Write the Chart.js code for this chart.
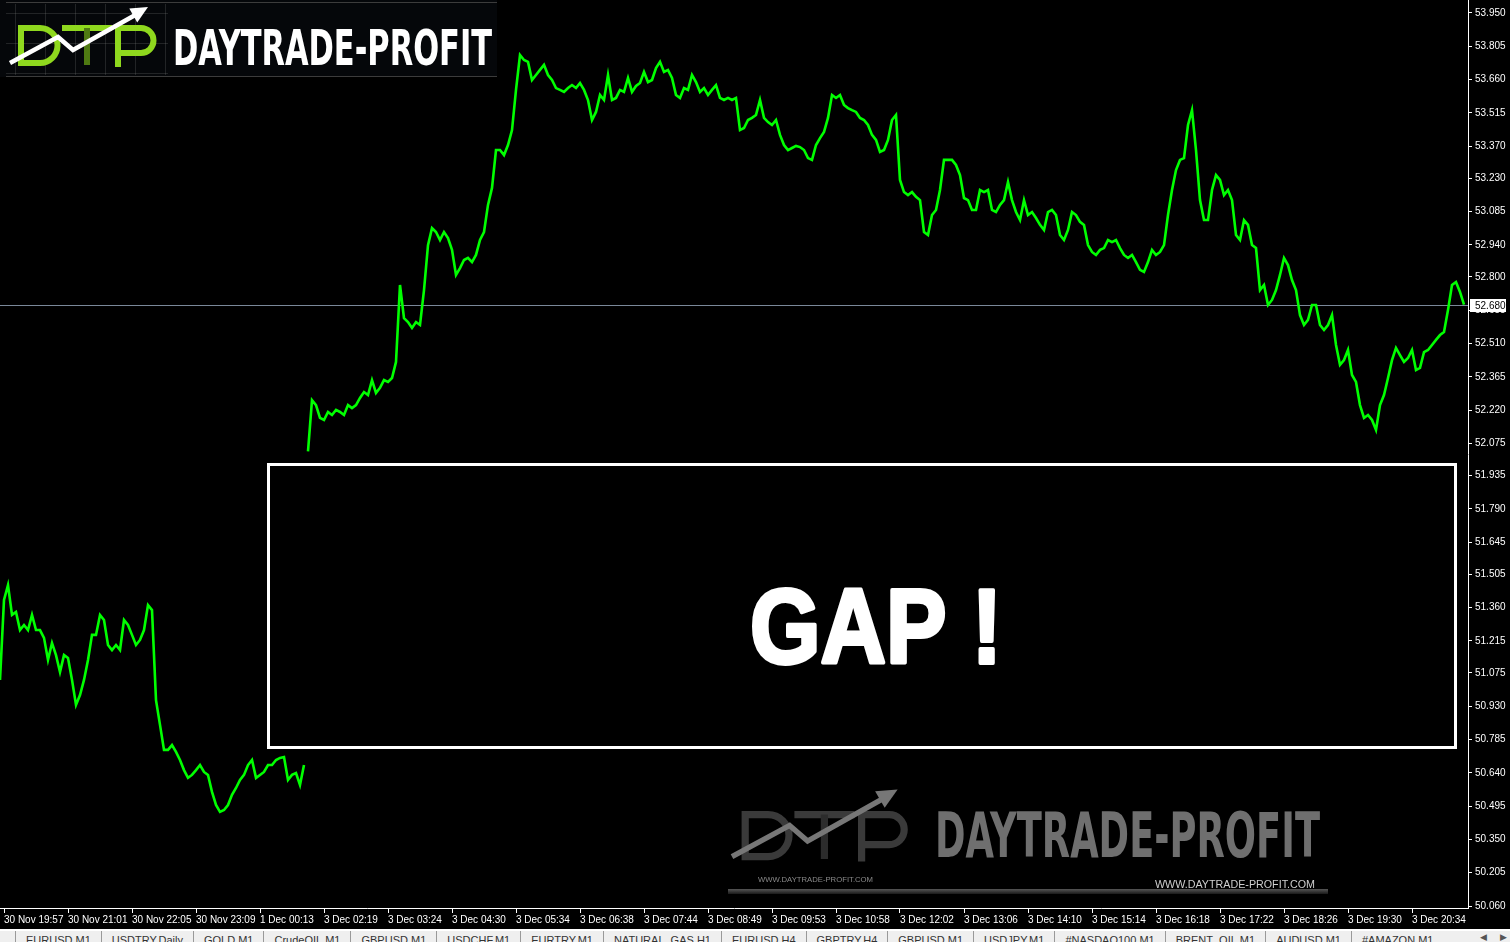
<!DOCTYPE html>
<html>
<head>
<meta charset="utf-8">
<script src="https://cdn.jsdelivr.net/npm/chart.js@4"></script>
<style>
html, body { margin: 0; padding: 0; background: #000; }
#wrap { position: relative; width: 1510px; height: 929px; background: #000; }
#tabs {
  position: absolute; left: 0; top: 929px; width: 1510px; height: 13px;
  box-sizing: border-box; border-top: 2px solid #fff; background: #efefef;
  overflow: hidden; white-space: nowrap; padding-left: 15px;
  font: 11px 'Liberation Sans', Arial, sans-serif; color: #333;
}
#tabs span { display: inline-block; padding: 3px 10px 0 10px; border-left: 1px solid #999; height: 20px; }
#tabs .arr { position: absolute; top: 1px; border: none; padding: 0; color: #555; font-size: 9px; }
</style>
</head>
<body>
<div id="wrap"><canvas id="chart" width="1510" height="929"></canvas></div>
<div id="tabs"></div>
<script>
// time axis labels (one every 64 M1 bars = 16 samples of 4 bars)
const timeLabels = ['30 Nov 19:57', '30 Nov 21:01', '30 Nov 22:05', '30 Nov 23:09', '1 Dec 00:13',
  '3 Dec 02:19', '3 Dec 03:24', '3 Dec 04:30', '3 Dec 05:34', '3 Dec 06:38', '3 Dec 07:44',
  '3 Dec 08:49', '3 Dec 09:53', '3 Dec 10:58', '3 Dec 12:02', '3 Dec 13:06', '3 Dec 14:10',
  '3 Dec 15:14', '3 Dec 16:18', '3 Dec 17:22', '3 Dec 18:26', '3 Dec 19:30', '3 Dec 20:34'];
const samplesPerLabel = 16;

const priceTicks = [53.950, 53.805, 53.660, 53.515, 53.370, 53.230, 53.085, 52.940, 52.800, 52.655,
  52.510, 52.365, 52.220, 52.075, 51.935, 51.790, 51.645, 51.505, 51.360, 51.215, 51.075, 50.930,
  50.785, 50.640, 50.495, 50.350, 50.205, 50.060];

const lastPrice = 52.680;

// price before the weekend gap (30 Nov - 1 Dec)
const beforeGap = [
  51.045, 51.393, 51.458, 51.328, 51.341, 51.262, 51.284, 51.262, 51.328, 51.262,
  51.262, 51.228, 51.132, 51.206, 51.153, 51.079, 51.153, 51.140, 51.045, 50.936,
  50.979, 51.045, 51.132, 51.241, 51.241, 51.328, 51.306, 51.197, 51.175, 51.197,
  51.175, 51.306, 51.284, 51.241, 51.197, 51.219, 51.262, 51.371, 51.349, 50.957,
  50.849, 50.740, 50.740, 50.761, 50.731, 50.696, 50.652, 50.618, 50.631, 50.652,
  50.674, 50.644, 50.631, 50.557, 50.500, 50.470, 50.478, 50.500, 50.544, 50.574,
  50.609, 50.631, 50.674, 50.696, 50.618, 50.631, 50.644, 50.674, 50.674, 50.696,
  50.705, 50.709, 50.609, 50.631, 50.639, 50.587, 50.674
];

// price after the gap (3 Dec)
const afterGap = [
  52.040, 52.264, 52.242, 52.186, 52.177, 52.212, 52.199, 52.221, 52.212, 52.199,
  52.242, 52.229, 52.242, 52.273, 52.299, 52.286, 52.351, 52.295, 52.317, 52.351,
  52.343, 52.360, 52.430, 52.765, 52.621, 52.604, 52.578, 52.604, 52.591, 52.743,
  52.939, 53.013, 52.996, 52.961, 52.996, 52.970, 52.918, 52.809, 52.839, 52.874,
  52.883, 52.865, 52.896, 52.961, 52.996, 53.114, 53.188, 53.353, 53.353, 53.331,
  53.375, 53.440, 53.615, 53.767, 53.745,
  53.737, 53.658, 53.680, 53.702, 53.724, 53.680, 53.658, 53.623, 53.615, 53.606,
  53.623, 53.636, 53.623, 53.645, 53.615, 53.571, 53.484, 53.519, 53.593, 53.571,
  53.680, 53.571, 53.580, 53.615, 53.606, 53.667, 53.606, 53.632, 53.645, 53.693,
  53.649, 53.658, 53.710, 53.737, 53.693, 53.702, 53.667, 53.593, 53.580, 53.623,
  53.615, 53.680, 53.649, 53.606, 53.623, 53.593, 53.615, 53.636, 53.580, 53.571,
  53.580, 53.571, 53.580, 53.440, 53.449, 53.484, 53.493, 53.506, 53.571, 53.493,
  53.475, 53.462, 53.484, 53.419, 53.375, 53.353, 53.362, 53.371, 53.366, 53.353,
  53.318, 53.310, 53.375, 53.405, 53.432, 53.493, 53.593, 53.580, 53.593, 53.549,
  53.536, 53.527, 53.519, 53.493, 53.484, 53.462, 53.419, 53.397, 53.345, 53.353,
  53.397, 53.484, 53.506,
  53.223, 53.170, 53.157, 53.170, 53.149, 53.135, 52.996, 52.983, 53.070, 53.092,
  53.179, 53.310, 53.310, 53.310, 53.288, 53.244, 53.144, 53.135, 53.092, 53.092,
  53.179, 53.170, 53.179, 53.092, 53.083, 53.114, 53.135, 53.214, 53.135, 53.083,
  53.048, 53.135, 53.070, 53.083, 53.057, 53.027, 53.005, 53.083, 53.092, 53.070,
  52.983, 52.961, 53.005, 53.083, 53.070, 53.040, 53.027, 52.939, 52.909, 52.896,
  52.918, 52.926, 52.961, 52.952, 52.961, 52.926, 52.896, 52.883, 52.896, 52.865,
  52.831, 52.822, 52.865, 52.918, 52.896, 52.909, 52.939, 53.070, 53.179, 53.266,
  53.310, 53.318, 53.462, 53.527, 53.353,
  53.135, 53.048, 53.048, 53.179, 53.244, 53.223, 53.157, 53.179, 53.135, 52.983,
  52.961, 53.048, 53.027, 52.939, 52.926, 52.743, 52.765, 52.678, 52.700, 52.743,
  52.809, 52.883, 52.852, 52.787, 52.743, 52.634, 52.591, 52.613, 52.678, 52.678,
  52.591, 52.569, 52.591, 52.634, 52.504, 52.417, 52.438, 52.482, 52.373, 52.343,
  52.242, 52.186, 52.199, 52.177, 52.134, 52.242, 52.286, 52.360, 52.438, 52.491,
  52.460, 52.430, 52.447, 52.482, 52.395, 52.404, 52.473, 52.482, 52.504, 52.526,
  52.547, 52.560, 52.656, 52.765, 52.778, 52.735, 52.680
];

const tabNames = ['EURUSD,M1', 'USDTRY,Daily', 'GOLD,M1', 'CrudeOIL,M1', 'GBPUSD,M1', 'USDCHF,M1',
  'EURTRY,M1', 'NATURAL_GAS,H1', 'EURUSD,H4', 'GBPTRY,H4', 'GBPUSD,M1', 'USDJPY,M1',
  '#NASDAQ100,M1', 'BRENT_OIL,M1', 'AUDUSD,M1', '#AMAZON,M1'];

// tab strip
const tabs = document.getElementById('tabs');
tabNames.forEach(function (t) {
  const s = document.createElement('span');
  s.textContent = t;
  tabs.appendChild(s);
});
tabs.insertAdjacentHTML('beforeend', '<span class="arr" style="left:1480px">&#9664;</span><span class="arr" style="left:1500px">&#9654;</span>');

const FONT = "'Liberation Sans', Arial, sans-serif";

// draw text squeezed to a given width (optionally with a stroke to make it heavier)
function fitText(ctx, text, x, y, width, font, color, stroke) {
  ctx.save();
  ctx.font = font;
  ctx.fillStyle = color;
  ctx.textBaseline = 'alphabetic';
  const w = ctx.measureText(text).width;
  ctx.translate(x, y);
  ctx.scale(width / w, 1);
  if (stroke) {
    ctx.strokeStyle = color;
    ctx.lineWidth = stroke;
    ctx.lineJoin = 'round';
    ctx.strokeText(text, 0, 0);
  }
  ctx.fillText(text, 0, 0);
  ctx.restore();
}

// "DTP" monogram with rising arrow, in logo coordinates
function drawMonogram(ctx, letterColor, stemColor, arrowColor) {
  ctx.lineWidth = 6;
  ctx.lineCap = 'butt';
  ctx.strokeStyle = letterColor;
  // D
  ctx.beginPath();
  ctx.moveTo(21, 25); ctx.lineTo(21, 65);
  ctx.moveTo(18, 28); ctx.lineTo(40, 28);
  ctx.arc(40, 45.5, 17.5, -Math.PI / 2, Math.PI / 2);
  ctx.lineTo(18, 63);
  ctx.stroke();
  // T
  ctx.beginPath();
  ctx.moveTo(62, 28); ctx.lineTo(112, 28);
  ctx.stroke();
  ctx.strokeStyle = stemColor;
  ctx.beginPath();
  ctx.moveTo(87, 28); ctx.lineTo(87, 65);
  ctx.stroke();
  // P
  ctx.strokeStyle = letterColor;
  ctx.beginPath();
  ctx.moveTo(118, 25); ctx.lineTo(118, 67);
  ctx.moveTo(115, 28); ctx.lineTo(141, 28);
  ctx.arc(141, 40.5, 12.5, -Math.PI / 2, Math.PI / 2);
  ctx.lineTo(118, 53);
  ctx.stroke();
  // arrow
  ctx.strokeStyle = arrowColor;
  ctx.fillStyle = arrowColor;
  ctx.lineWidth = 4.5;
  ctx.lineJoin = 'miter';
  ctx.beginPath();
  ctx.moveTo(10, 63); ctx.lineTo(58, 37); ctx.lineTo(73, 50); ctx.lineTo(137, 14);
  ctx.stroke();
  const tipX = 148, tipY = 7, dx = 0.867, dy = -0.497;
  ctx.beginPath();
  ctx.moveTo(tipX, tipY);
  ctx.lineTo(tipX - 17 * dx + 8 * dy, tipY - 17 * dy - 8 * dx);
  ctx.lineTo(tipX - 17 * dx - 8 * dy, tipY - 17 * dy + 8 * dx);
  ctx.closePath();
  ctx.fill();
}

const decor = {
  id: 'decor',
  beforeDatasetsDraw(chart) {
    const { ctx, chartArea: a, scales: { y } } = chart;
    const py = Math.round(y.getPixelForValue(lastPrice)) + 0.5;
    ctx.save();
    ctx.strokeStyle = '#7a8899';
    ctx.lineWidth = 1;
    ctx.beginPath();
    ctx.moveTo(a.left, py);
    ctx.lineTo(a.right, py);
    ctx.stroke();
    ctx.restore();
  },
  afterDraw(chart) {
    const { ctx, chartArea: a, scales: { y } } = chart;
    ctx.save();

    // current price tag on the price scale
    const py = Math.round(y.getPixelForValue(lastPrice));
    ctx.fillStyle = '#fff';
    ctx.fillRect(a.right + 2, py - 6, 36, 13);
    ctx.fillStyle = '#000';
    ctx.font = '10px ' + FONT;
    ctx.textBaseline = 'middle';
    ctx.fillText(lastPrice.toFixed(3), a.right + 7, py + 1);

    // GAP annotation box
    ctx.strokeStyle = '#fff';
    ctx.lineWidth = 3;
    ctx.strokeRect(268.5, 464.5, 1187, 283);
    fitText(ctx, 'GAP !', 750, 663, 252, 'bold 106px ' + FONT, '#fff', 4);

    // top-left logo
    ctx.fillStyle = '#05070a';
    ctx.fillRect(0, 0, 497, 77);
    ctx.strokeStyle = 'rgba(140,140,140,0.22)';
    ctx.lineWidth = 1;
    ctx.beginPath();
    for (let gx = 15.5; gx < 170; gx += 30) { ctx.moveTo(gx, 4); ctx.lineTo(gx, 75); }
    for (let gy = 13.5; gy < 77; gy += 30) { ctx.moveTo(6, gy); ctx.lineTo(168, gy); }
    ctx.stroke();
    ctx.strokeStyle = '#3c3c3c';
    ctx.beginPath();
    ctx.moveTo(6, 2.5); ctx.lineTo(497, 2.5);
    ctx.moveTo(6, 76.5); ctx.lineTo(497, 76.5);
    ctx.stroke();
    ctx.save();
    drawMonogram(ctx, '#8fd81e', '#4f7a12', '#fff');
    ctx.restore();
    fitText(ctx, 'DAYTRADE-PROFIT', 173, 65, 319, "bold 50px 'DejaVu Sans Condensed', 'DejaVu Sans', sans-serif", '#fff');

    // bottom watermark
    ctx.save();
    ctx.translate(720, 781);
    ctx.scale(1.2, 1.2);
    drawMonogram(ctx, '#3a3a3a', '#2c2c2c', '#777');
    ctx.restore();
    fitText(ctx, 'DAYTRADE-PROFIT', 935, 857, 385, "bold 62px 'DejaVu Sans Condensed', 'DejaVu Sans', sans-serif", '#6f6f6f');
    fitText(ctx, 'WWW.DAYTRADE-PROFIT.COM', 758, 882, 115, '8px ' + FONT, '#8a8a8a');
    fitText(ctx, 'WWW.DAYTRADE-PROFIT.COM', 1155, 888, 160, '10px ' + FONT, '#cfcfcf');
    const g = ctx.createLinearGradient(0, 889, 0, 894);
    g.addColorStop(0, '#555');
    g.addColorStop(1, '#1a1a1a');
    ctx.fillStyle = g;
    ctx.fillRect(728, 889, 600, 5);

    ctx.restore();
  }
};

const lineStyle = { borderColor: '#00ff00', borderWidth: 2.6, pointRadius: 0, tension: 0, fill: false, borderJoinStyle: 'miter' };

new Chart(document.getElementById('chart'), {
  type: 'line',
  data: {
    datasets: [
      Object.assign({ data: beforeGap.map((v, i) => ({ x: i, y: v })) }, lineStyle),
      Object.assign({ data: afterGap.map((v, i) => ({ x: beforeGap.length + i, y: v })) }, lineStyle)
    ]
  },
  options: {
    responsive: false,
    animation: false,
    events: [],
    layout: { padding: 0 },
    plugins: { legend: { display: false }, tooltip: { enabled: false } },
    scales: {
      x: {
        type: 'linear',
        min: 0,
        max: beforeGap.length + afterGap.length,
        afterBuildTicks: s => { s.ticks = timeLabels.map((t, k) => ({ value: 1 + k * samplesPerLabel })); },
        afterFit: s => { s.height = 21; s.paddingLeft = 0; s.paddingRight = 0; },
        ticks: {
          align: 'start', maxRotation: 0, autoSkip: false, color: '#fff', padding: 1,
          font: { family: FONT, size: 10 },
          callback: (v, k) => timeLabels[k]
        },
        grid: { drawOnChartArea: false, drawTicks: true, tickLength: 5, color: '#fff' },
        border: { display: true, color: '#fff', width: 1 }
      },
      y: {
        position: 'right',
        min: 50.0513,
        max: 54.0066,
        afterBuildTicks: s => { s.ticks = priceTicks.map(v => ({ value: v })); },
        afterFit: s => { s.width = 42; s.paddingTop = 0; s.paddingBottom = 0; },
        ticks: {
          autoSkip: false, color: '#fff', padding: 3,
          font: { family: FONT, size: 10 },
          callback: v => v.toFixed(3)
        },
        grid: { drawOnChartArea: false, drawTicks: true, tickLength: 4, color: '#fff' },
        border: { display: true, color: '#fff', width: 1 }
      }
    }
  },
  plugins: [decor]
});
</script>
</body>
</html>
